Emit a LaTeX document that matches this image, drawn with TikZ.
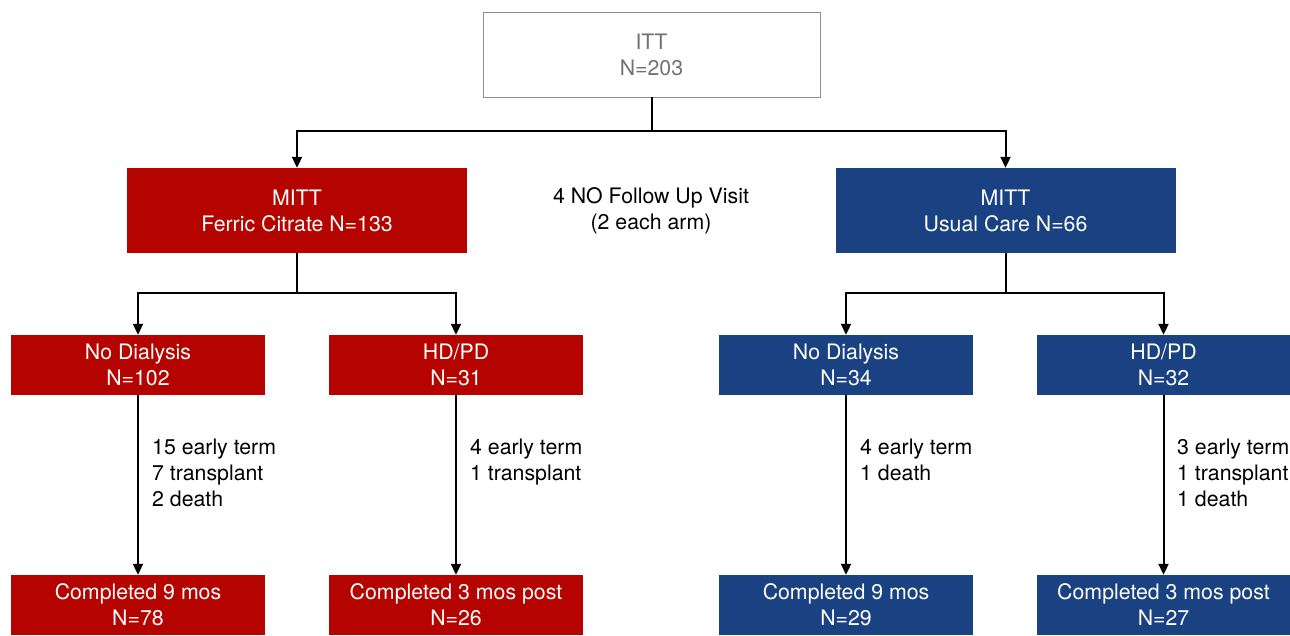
\documentclass[tikz,border=0pt]{standalone}
\usepackage{fontspec}
\setmainfont{TeX Gyre Heros}
\usetikzlibrary{arrows.meta, positioning}
\definecolor{MITT_Red}{HTML}{B50400}
\definecolor{MITT_Blue}{HTML}{1A4282}
\definecolor{ITT_Gray}{HTML}{727272}
\tikzset{
    base/.style={align=center, inner sep=0pt, font=\fontsize{21.3}{26}\selectfont},
    ittbox/.style={base, draw=ITT_Gray!80, line width=0.8pt, text=ITT_Gray, minimum width=337pt, minimum height=85pt},
    redbox/.style={base, fill=MITT_Red, text=white},
    bluebox/.style={base, fill=MITT_Blue, text=white},
    armbox/.style={minimum width=340pt, minimum height=85pt},
    subbox/.style={minimum width=254pt, minimum height=60pt},
    link/.style={line width=2pt, -{Triangle[width=10pt,length=11pt]}},
    stem/.style={line width=2pt},
    loss/.style={base, align=left, anchor=north west}
}

\begin{document}
\begin{tikzpicture}[x=1pt, y=-1pt]
    \useasboundingbox (0,0) rectangle (1290,635);
    % Top
    \node[ittbox] (itt) at (651.5,54.5) {ITT\\N=203};
    % Arms
    \node[redbox, armbox] (mred) at (297,210.5) {MITT\\Ferric Citrate N=133};
    \node[bluebox, armbox] (mblue) at (1005.5,210.5) {MITT\\Usual Care N=66};
    \node[base] (nofu) at (651,211) {4 NO Follow Up Visit\\(2 each arm)};
    % Dialysis split
    \node[redbox, subbox] (rnd) at (138,365) {No Dialysis\\N=102};
    \node[redbox, subbox] (rhd) at (456,365) {HD/PD\\N=31};
    \node[bluebox, subbox] (bnd) at (846,365) {No Dialysis\\N=34};
    \node[bluebox, subbox] (bhd) at (1163.5,365) {HD/PD\\N=32};
    % Completed
    \node[redbox, subbox] (rndc) at (138,605) {Completed 9 mos\\N=78};
    \node[redbox, subbox] (rhdc) at (456,605) {Completed 3 mos post\\N=26};
    \node[bluebox, subbox] (bndc) at (846,605) {Completed 9 mos\\N=29};
    \node[bluebox, subbox] (bhdc) at (1163.5,605) {Completed 3 mos post\\N=27};

    % connectors
    \coordinate (s0) at (651.5,131);
    \coordinate (s1) at (297,293);
    \coordinate (s2) at (1005.5,293);
    \draw[stem] (itt.south) -- (s0);
    \draw[link] (s0) -| (mred.north);
    \draw[link] (s0) -| (mblue.north);
    \draw[stem] (mred.south) -- (s1);
    \draw[link] (s1) -| (rnd.north);
    \draw[link] (s1) -| (rhd.north);
    \draw[stem] (mblue.south) -- (s2);
    \draw[link] (s2) -| (bnd.north);
    \draw[link] (s2) -| (bhd.north);
    \draw[link] (rnd) -- (rndc);
    \draw[link] (rhd) -- (rhdc);
    \draw[link] (bnd) -- (bndc);
    \draw[link] (bhd) -- (bhdc);

    % losses
    \node[loss] (rndl) at (152,439) {15 early term\\7 transplant\\2 death};
    \node[loss] (rhdl) at (470,439) {4 early term\\1 transplant};
    \node[loss] (bndl) at (860,439) {4 early term\\1 death};
    \node[loss] (bhdl) at (1177,439) {3 early term\\1 transplant\\1 death};
\end{tikzpicture}
\end{document}
